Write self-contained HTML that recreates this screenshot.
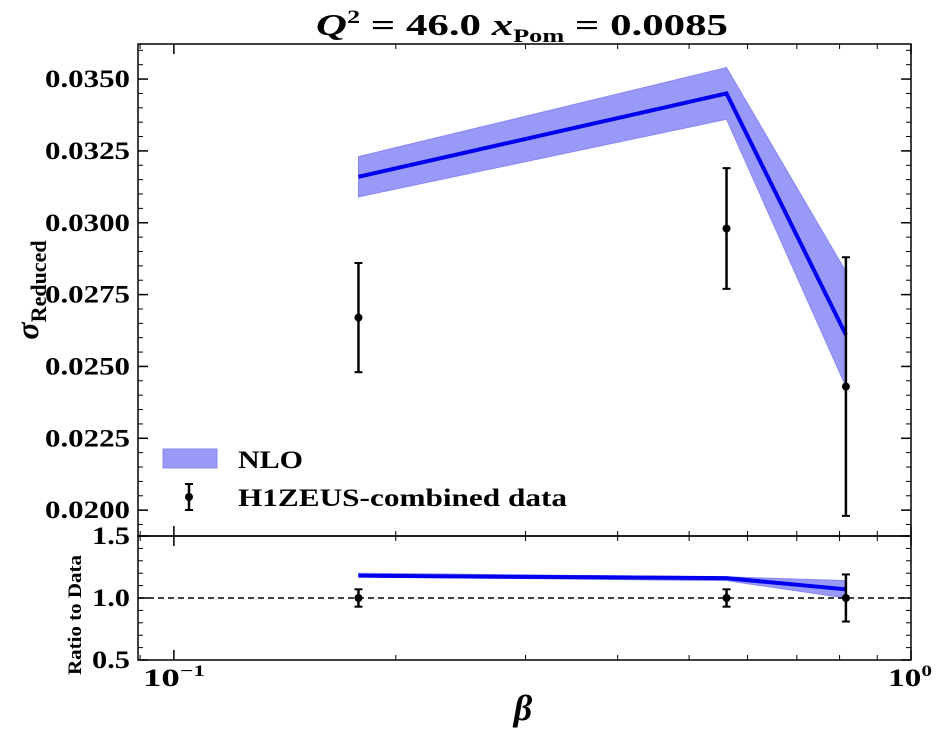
<!DOCTYPE html>
<html><head><meta charset="utf-8">
<style>
body{margin:0;background:#fff;}
svg text{font-family:"Liberation Serif",serif;font-weight:bold;fill:#000;}
</style></head>
<body>
<svg id="c" width="942" height="735" viewBox="0 0 942 735" xmlns="http://www.w3.org/2000/svg">
<text x="316" y="35" font-size="31" textLength="412" lengthAdjust="spacingAndGlyphs"><tspan font-style="italic">Q</tspan><tspan font-size="19" dy="-12">2</tspan><tspan dy="12"> = 46.0  </tspan><tspan font-style="italic">x</tspan><tspan font-size="19" dy="7">Pom</tspan><tspan dy="-7"> = 0.0085</tspan></text>
<text transform="translate(38,290) rotate(-90)" font-size="32" text-anchor="middle"><tspan font-style="italic">σ</tspan><tspan font-size="22" dy="8">Reduced</tspan></text>
<text transform="translate(81,615) rotate(-90)" font-size="19" text-anchor="middle" textLength="120" lengthAdjust="spacingAndGlyphs">Ratio to Data</text>
<text x="523" y="720" font-size="36" font-style="italic" text-anchor="middle">β</text>
<g id="g"></g>
</svg>
<script>
const betas=[0.178,0.562,0.816];
const dataVals=[0.0267,0.0298,0.0243];
const dataErr=[0.0019,0.0021,0.0045];
const nloVals=[0.0316,0.0345,0.0261];
const nloUp=[0.0323,0.0354,0.0283];
const nloLo=[0.0309,0.0336,0.0243];
const ratioVals=[1.18,1.16,1.07];
const ratioUp=[1.20,1.17,1.14];
const ratioLo=[1.17,1.14,1.00];
const ratioErr=[0.07,0.07,0.19];
const yTicks=[0.0200,0.0225,0.0250,0.0275,0.0300,0.0325,0.0350];
const yTickLabels=["0.0200","0.0225","0.0250","0.0275","0.0300","0.0325","0.0350"];
const rTicks=[0.5,1.0,1.5];
const rTickLabels=["0.5","1.0","1.5"];

const L=138,R=911,T=44,MB=536,RB=660;
const xmin=Math.log10(0.0894),xmax=0;
const X=v=>L+(Math.log10(v)-xmin)/(xmax-xmin)*(R-L);
const ymin=0.01910,ymax=0.03622;
const Y=v=>MB-(v-ymin)/(ymax-ymin)*(MB-T);
const rmin=0.5,rmax=1.5;
const RY=v=>RB-(v-rmin)/(rmax-rmin)*(RB-MB);
const NS="http://www.w3.org/2000/svg";
const g=document.getElementById('g');
function el(t,a){const e=document.createElementNS(NS,t);for(const k in a)e.setAttribute(k,a[k]);g.appendChild(e);return e;}

let pts=betas.map((b,i)=>X(b)+","+Y(nloUp[i])).concat(betas.slice().reverse().map((b,j)=>{const i=betas.length-1-j;return X(b)+","+Y(nloLo[i]);}));
let band=el('polygon',{points:pts.join(' '),fill:'#6e6ef5',opacity:0.7,stroke:'#5555ee','stroke-width':1});


let line=el('polyline',{points:betas.map((b,i)=>X(b)+","+Y(nloVals[i])).join(' '),fill:'none',stroke:'#0000ee','stroke-width':4});


betas.forEach((b,i)=>{
  const x=X(b);
  const e=el('line',{x1:x,x2:x,y1:Y(dataVals[i]+dataErr[i]),y2:Y(dataVals[i]-dataErr[i]),stroke:'#000','stroke-width':2.5});
  
  
  [dataVals[i]+dataErr[i],dataVals[i]-dataErr[i]].forEach(v=>el('line',{x1:x-4,x2:x+4,y1:Y(v),y2:Y(v),stroke:'#000','stroke-width':2}));
  const p=el('circle',{cx:x,cy:Y(dataVals[i]),r:4,fill:'#000'});
  
  
});
let rp=betas.map((b,i)=>X(b)+","+RY(ratioUp[i])).concat(betas.slice().reverse().map((b,j)=>{const i=betas.length-1-j;return X(b)+","+RY(ratioLo[i]);}));
let rb=el('polygon',{points:rp.join(' '),fill:'#6e6ef5',opacity:0.7,stroke:'#5555ee','stroke-width':1});


let rl=el('polyline',{points:betas.map((b,i)=>X(b)+","+RY(ratioVals[i])).join(' '),fill:'none',stroke:'#0000ee','stroke-width':4});


let ref=el('line',{x1:L,x2:R,y1:RY(1),y2:RY(1),stroke:'#000','stroke-width':1.5,'stroke-dasharray':'6,4'});


betas.forEach((b,i)=>{
  const x=X(b);
  el('line',{x1:x,x2:x,y1:RY(1+ratioErr[i]),y2:RY(1-ratioErr[i]),stroke:'#000','stroke-width':2.5});
  [1+ratioErr[i],1-ratioErr[i]].forEach(v=>el('line',{x1:x-4,x2:x+4,y1:RY(v),y2:RY(v),stroke:'#000','stroke-width':2}));
  const p=el('circle',{cx:x,cy:RY(1),r:4,fill:'#000'});
  
  
});
[[T,MB],[MB,RB]].forEach(([a,b])=>{const f=el('rect',{x:L,y:a,width:R-L,height:b-a,fill:'none',stroke:'#000','stroke-width':1.5});

});
yTicks.forEach((v,i)=>{const y=Y(v);
  el('line',{x1:L,x2:L+10,y1:y,y2:y,stroke:'#000','stroke-width':1.5});
  el('line',{x1:R,x2:R-10,y1:y,y2:y,stroke:'#000','stroke-width':1.5});
  const t=el('text',{x:45,y:y+8,'font-size':25,textLength:85,lengthAdjust:'spacingAndGlyphs'});t.textContent=yTickLabels[i];
  
  });
for(let v=0.0195;v<0.0362;v+=0.0005){const y=Y(v);if(y<T||y>MB)continue;
  el('line',{x1:L,x2:L+5,y1:y,y2:y,stroke:'#000','stroke-width':1});
  el('line',{x1:R,x2:R-5,y1:y,y2:y,stroke:'#000','stroke-width':1});}
rTicks.forEach((v,i)=>{const y=RY(v);
  el('line',{x1:L,x2:L+10,y1:y,y2:y,stroke:'#000','stroke-width':1.5});
  el('line',{x1:R,x2:R-10,y1:y,y2:y,stroke:'#000','stroke-width':1.5});
  const t=el('text',{x:92,y:y+8,'font-size':25,textLength:38,lengthAdjust:'spacingAndGlyphs'});t.textContent=rTickLabels[i];
  
  });
for(let v=0.6;v<1.5;v+=0.1){const y=RY(v);
  el('line',{x1:L,x2:L+5,y1:y,y2:y,stroke:'#000','stroke-width':1});
  el('line',{x1:R,x2:R-5,y1:y,y2:y,stroke:'#000','stroke-width':1});}
[0.1,1].forEach(v=>{const x=X(v);
  [[T,T+10],[MB,MB-10],[MB,MB+10],[RB,RB-10]].forEach(([a,b])=>el('line',{x1:x,x2:x,y1:a,y2:b,stroke:'#000','stroke-width':1.5}));});
[0.09,0.2,0.3,0.4,0.5,0.6,0.7,0.8,0.9].forEach(v=>{const x=X(v);
  [[T,T+5],[MB,MB-5],[MB,MB+5],[RB,RB-5]].forEach(([a,b])=>el('line',{x1:x,x2:x,y1:a,y2:b,stroke:'#000','stroke-width':1}));});
let t1=el('text',{x:143,y:686,'font-size':25,textLength:62,lengthAdjust:'spacingAndGlyphs'});t1.innerHTML='10<tspan font-size="16" dy="-10">−1</tspan>';


let t2=el('text',{x:888,y:686,'font-size':25,textLength:44,lengthAdjust:'spacingAndGlyphs'});t2.innerHTML='10<tspan font-size="16" dy="-10">0</tspan>';


let lp=el('rect',{x:163,y:449,width:54,height:19,fill:'#6e6ef5',opacity:0.7,stroke:'#5555ee'});


let lt=el('text',{x:238,y:468,'font-size':25,textLength:65,lengthAdjust:'spacingAndGlyphs'});lt.textContent='NLO';


el('line',{x1:189,x2:189,y1:484,y2:510,stroke:'#000','stroke-width':2.5});
el('line',{x1:185,x2:193,y1:484,y2:484,stroke:'#000','stroke-width':2});
el('line',{x1:185,x2:193,y1:510,y2:510,stroke:'#000','stroke-width':2});
let lm=el('circle',{cx:189,cy:497,r:4,fill:'#000'});


let lt2=el('text',{x:238,y:506,'font-size':25,textLength:329,lengthAdjust:'spacingAndGlyphs'});lt2.textContent='H1ZEUS-combined data';


</script>
</body></html>
